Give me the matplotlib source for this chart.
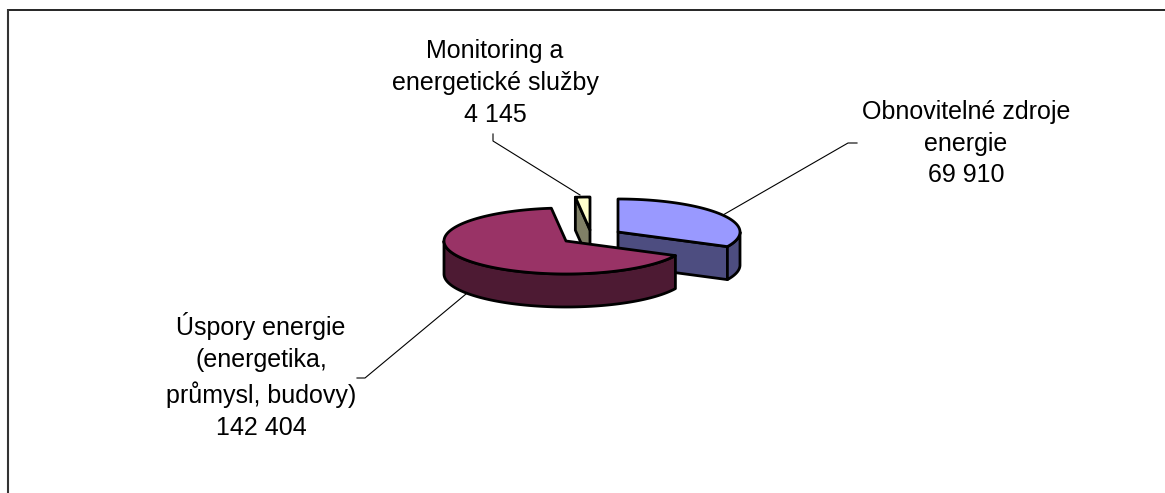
import numpy as np
import matplotlib
matplotlib.use("Agg")
import matplotlib.pyplot as plt
from matplotlib.patches import Polygon

plt.rcParams['font.family'] = ['Liberation Sans', 'DejaVu Sans']

labels = ["Obnovitelné zdroje\nenergie\n69 910",
          "Úspory energie\n(energetika,\nprůmysl, budovy)\n142 404",
          "Monitoring a\nenergetické služby\n4 145"]
values = [69910, 142404, 4145]
top_colors = ["#9999FF", "#993366", "#FFFFCC"]
side_colors = ["#4D4D80", "#4D1A33", "#808066"]
centers = [(618, 232), (566, 241), (590, 230)]   # vrchol kazde vysece
label_pos = [(966, 143.5), (261, 376), (495, 83)]
leaders = [[(857, 143), (848, 143), (723, 215)],
           [(357, 378), (365, 378), (466, 294)],
           [(493, 134), (493, 141), (580, 195)]]

W, H = 1165, 493
RX, RY, DEPTH = 122, 33, 33
EDGE = 2.0


def point(c, deg):
    a = np.radians(deg)
    return c[0] + RX * np.sin(a), c[1] - RY * np.cos(a)


def arc(c, a0, a1):
    t = np.linspace(a0, a1, 120)
    return np.column_stack(point(c, t))


fig = plt.figure(figsize=(W / 100, H / 100), dpi=100)
ax = fig.add_axes([0, 0, 1, 1])
ax.set_xlim(0, W)
ax.set_ylim(H, 0)
ax.axis("off")

# ramecek
ax.plot([8.5, W], [9.5, 9.5], color="black", lw=1.2, solid_capstyle="butt")
ax.plot([8, 8], [9, H], color="#333333", lw=1.5, solid_capstyle="butt")

vals = np.array(values, dtype=float)
ends = np.cumsum(vals) / vals.sum() * 360
starts = np.concatenate(([0], ends[:-1]))
down = np.array([0, DEPTH])

# ktera rezna stena je videt: obnovitelne konec, monitoring zacatek
cut_angle = [ends[0], None, starts[2]]

# odzadu dopredu: monitoring, obnovitelne, uspory
for i in [2, 0, 1]:
    c = np.array(centers[i], dtype=float)
    a0, a1 = starts[i], ends[i]
    st = dict(ec="black", lw=EDGE, joinstyle="round")
    if cut_angle[i] is not None:
        p = np.array(point(c, cut_angle[i]))
        ax.add_patch(Polygon([c, p, p + down, c + down], fc=side_colors[i], **st))
    # vnejsi stena, jen spodni pulka elipsy
    lo, hi = max(a0, 90), min(a1, 270)
    if lo < hi:
        rim = arc(c, lo, hi)
        ax.add_patch(Polygon(np.vstack([rim, (rim + down)[::-1]]), fc=side_colors[i], **st))
    top = np.vstack([[c], arc(c, a0, a1)])
    ax.add_patch(Polygon(top, fc=top_colors[i], **st))

for pts in leaders:
    xs, ys = zip(*pts)
    ax.plot(xs, ys, color="black", lw=0.8, zorder=0.5)

for t, (x, y) in zip(labels, label_pos):
    ax.text(x, y, t, ha="center", va="center", fontsize=18, linespacing=1.42, color="black")

fig.savefig("out.png", dpi=100)
